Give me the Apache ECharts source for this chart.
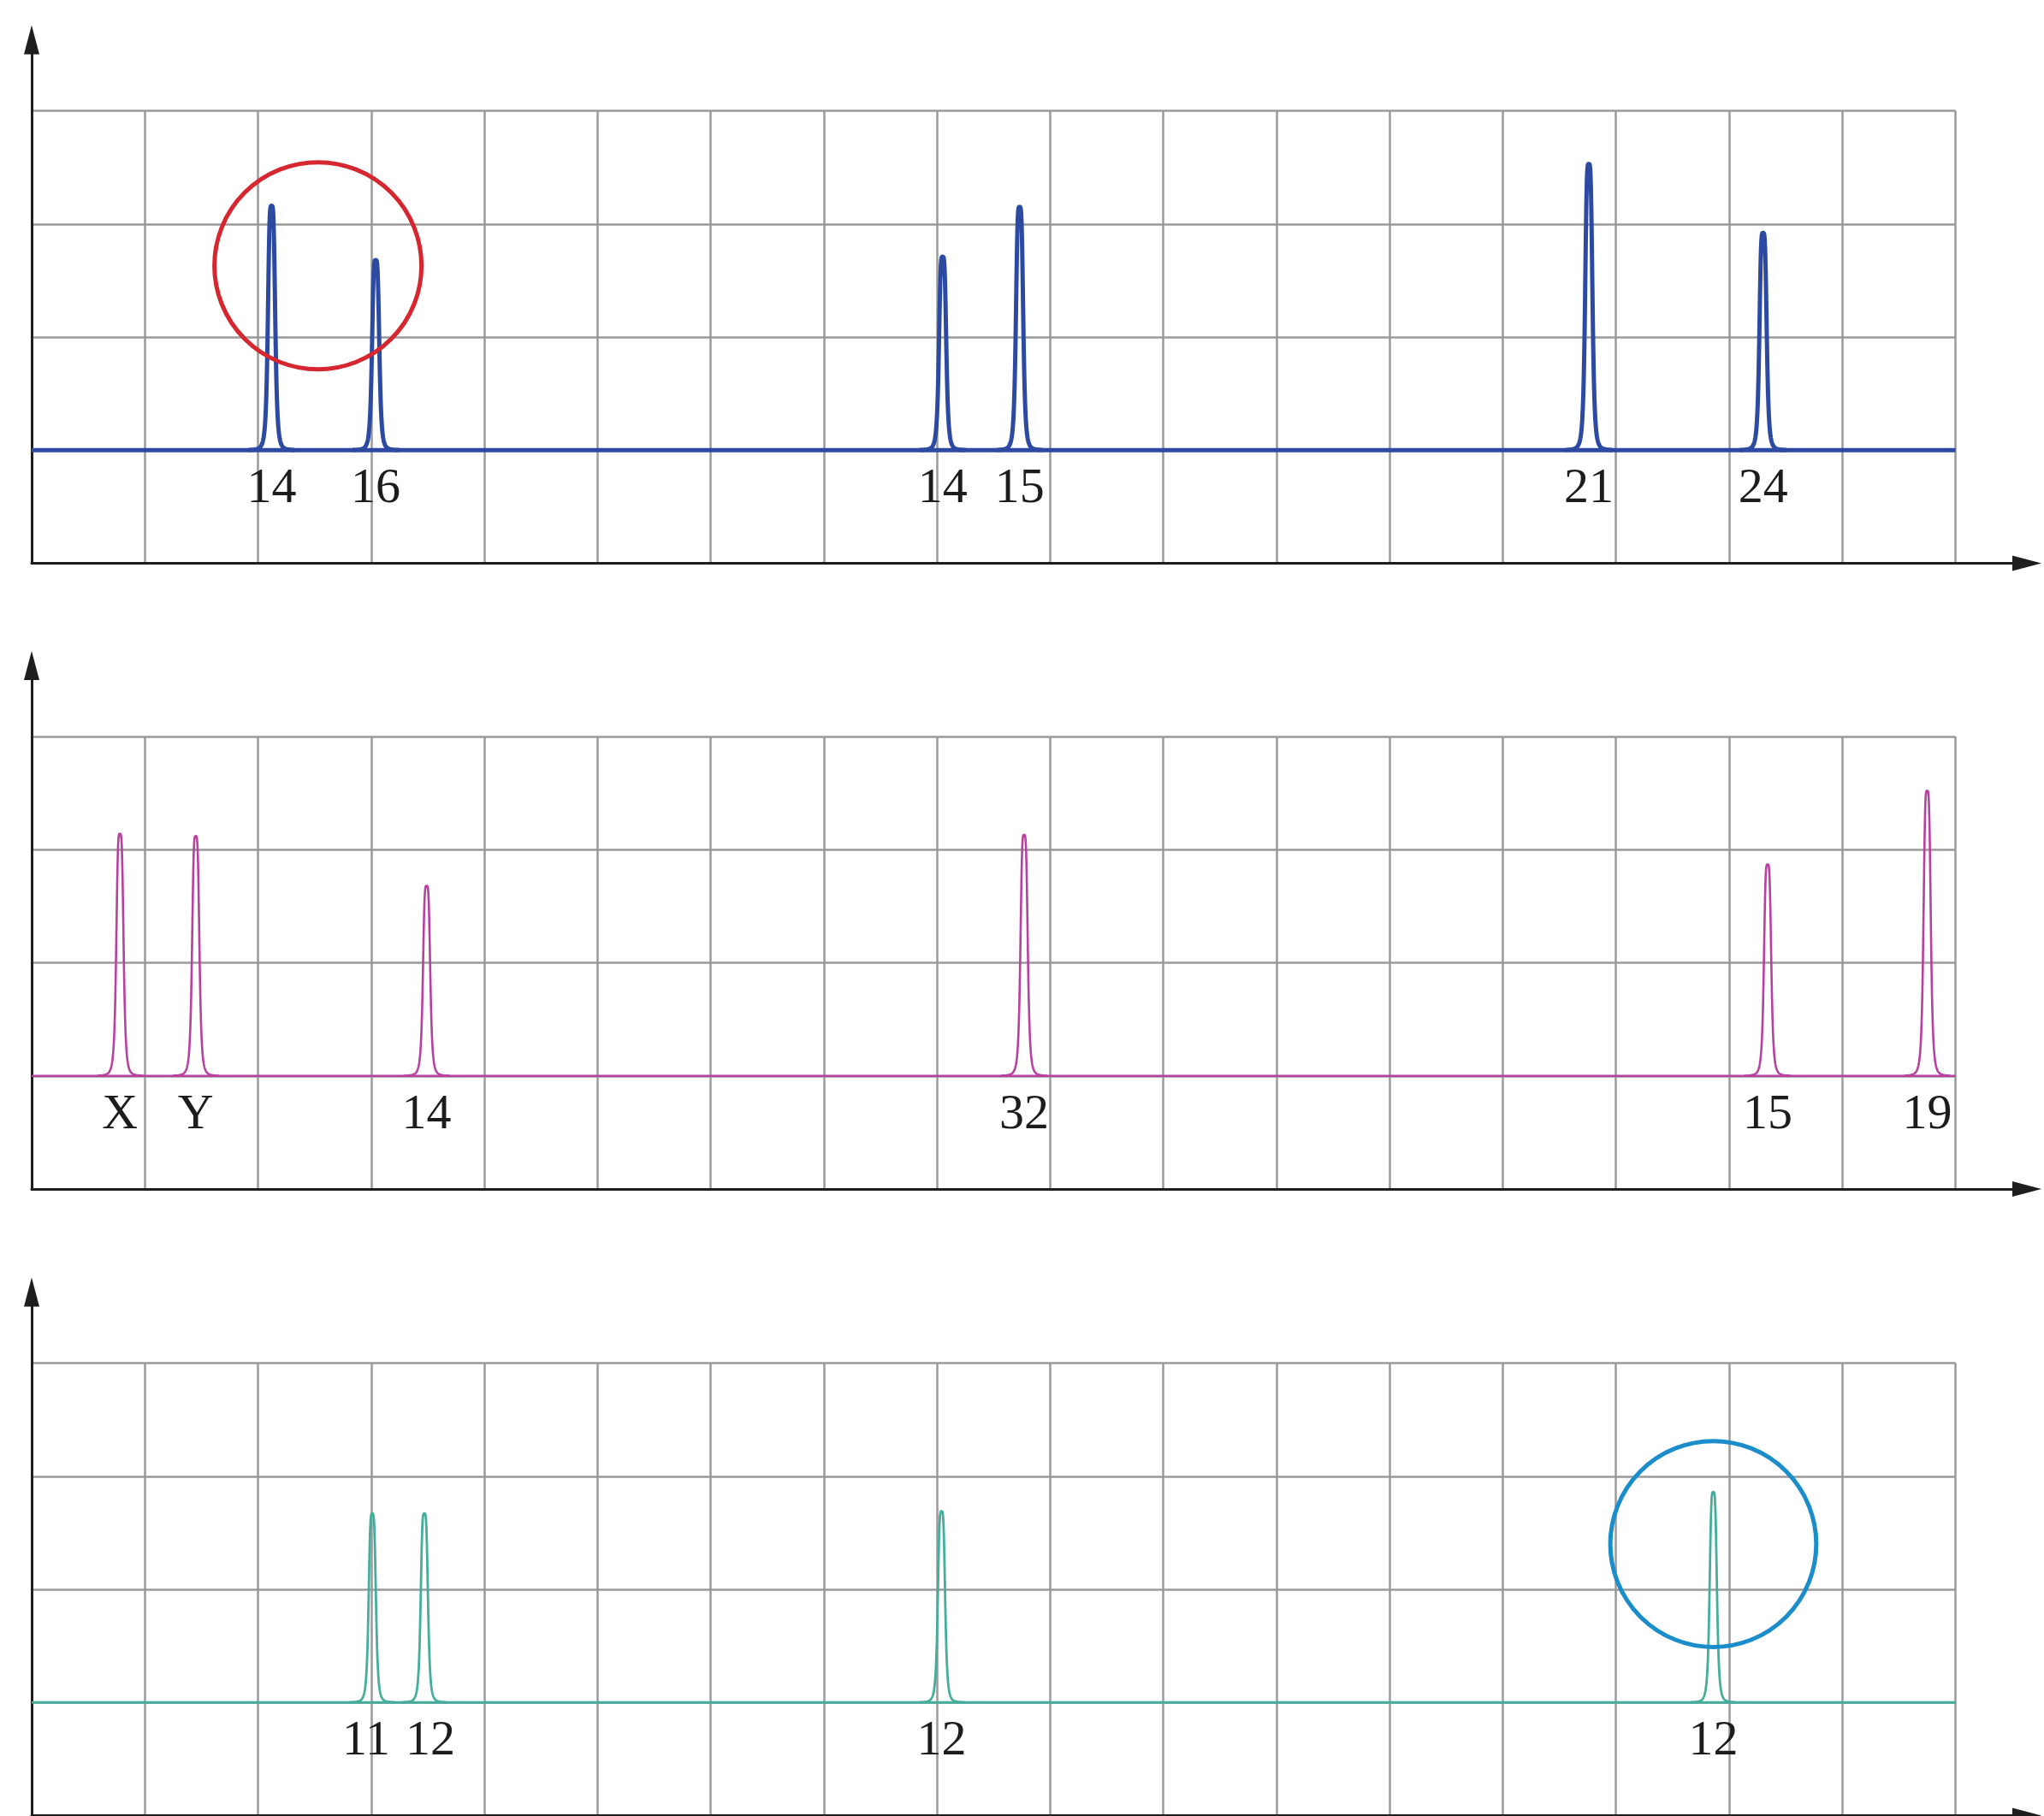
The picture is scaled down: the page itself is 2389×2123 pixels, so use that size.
<!DOCTYPE html>
<html>
<head>
<meta charset="utf-8">
<script src="https://cdn.jsdelivr.net/npm/echarts@6/dist/echarts.min.js"></script>
<style>
  html, body { margin: 0; padding: 0; background: #ffffff; }
  #chart { width: 2389px; height: 2123px; }
</style>
</head>
<body>
<div id="chart"></div>
<script>
// Three stacked traces on a 17 x 4 grid; each trace rests at level 1.
const cols = 17;
const rows = 4;
const baseLevel = 1;

// Trace A (blue): peak position, peak top
const peaksA = [[2.12, 3.16], [3.04, 2.68], [8.05, 2.71], [8.73, 3.15], [13.76, 3.53], [15.30, 2.92]];
const labelsA = ['14', '16', '14', '15', '21', '24'];

// Trace B (magenta)
const peaksB = [[0.78, 3.14], [1.45, 3.12], [3.49, 2.68], [8.77, 3.13], [15.34, 2.87], [16.75, 3.52]];
const labelsB = ['X', 'Y', '14', '32', '15', '19'];

// Trace C (teal)
const peaksC = [[3.01, 2.67], [3.47, 2.67], [8.04, 2.69], [14.86, 2.86]];
const labelsC = ['11', '12', '12', '12'];

// Highlight rings: centre x, centre y, radius (grid units)
const ringA = [[2.53, 2.63, 0.915]];
const ringC = [[14.86, 2.40, 0.91]];

const chart = echarts.init(document.getElementById('chart'), null, { renderer: 'canvas' });

const panelTops = [129.5, 861, 1593.5];
const panelH = 529;
const panelLeft = 37;
const panelW = 2248.5;
const arrowLen = 34;
const arrowTipAbove = 100;   // y-axis arrow tip above the grid top
const arrowTipX = 2386;      // x-axis arrow tip

const PEAK_HALF_WIDTH = 0.034;  // grid units, half width at half height
const MIN_LABEL_GAP = 75;       // px between neighbouring label centres

// Horizontal position of a peak label, nudged apart from close neighbours
function labelX(peaks, idx, api) {
  const x = api.coord([peaks[idx][0], baseLevel])[0];
  let shift = 0;
  if (idx > 0) {
    const d = x - api.coord([peaks[idx - 1][0], baseLevel])[0];
    if (d < MIN_LABEL_GAP) shift += (MIN_LABEL_GAP - d) / 2;
  }
  if (idx < peaks.length - 1) {
    const d = api.coord([peaks[idx + 1][0], baseLevel])[0] - x;
    if (d < MIN_LABEL_GAP) shift -= (MIN_LABEL_GAP - d) / 2;
  }
  return x + shift;
}

function peakRenderer(peaks, labels, color, width) {
  return function (params, api) {
    const px = api.value(0);
    const top = api.value(1);
    const g = PEAK_HALF_WIDTH;
    const pts = [];
    for (let k = -90; k <= 90; k++) {
      const dx = k * g / 15;
      const u = dx / g;
      const v = baseLevel + (top - baseLevel) / (1 + u * u * u * u);
      pts.push(api.coord([px + dx, v]));
    }
    const foot = api.coord([px, baseLevel]);
    return {
      type: 'group',
      children: [
        {
          type: 'polyline',
          shape: { points: pts },
          style: { stroke: color, lineWidth: width, fill: 'none', lineJoin: 'round' }
        },
        {
          type: 'text',
          style: {
            text: labels[params.dataIndex],
            x: labelX(peaks, params.dataIndex, api),
            y: foot[1] + 46,
            align: 'center',
            verticalAlign: 'middle',
            fontSize: 58,
            fontFamily: '"Liberation Serif", "DejaVu Serif", serif',
            fill: '#1c1c1c'
          }
        }
      ]
    };
  };
}

function ringRenderer(color) {
  return function (params, api) {
    const c = api.coord([api.value(0), api.value(1)]);
    const s = api.size([api.value(2), api.value(2)]);
    return {
      type: 'circle',
      shape: { cx: c[0], cy: c[1], r: s[0] },
      style: { fill: 'none', stroke: color, lineWidth: 5 }
    };
  };
}

const traces = [
  { peaks: peaksA, labels: labelsA, color: '#2d4aa3', width: 5, ring: ringA, ringColor: '#d6262f' },
  { peaks: peaksB, labels: labelsB, color: '#b8409f', width: 2.6, ring: null },
  { peaks: peaksC, labels: labelsC, color: '#45ad9c', width: 2.8, ring: ringC, ringColor: '#1b8dcb' }
];

const grid = [], xAxis = [], yAxis = [], series = [];

traces.forEach(function (t, i) {
  const top = panelTops[i];
  const bottom = 2123 - (top + panelH);
  // gridded area
  grid.push({ left: panelLeft, top: top, width: panelW, height: panelH });
  // frame carrying the arrowed axes
  grid.push({
    left: panelLeft,
    top: top - arrowTipAbove + arrowLen / 2,
    right: 2389 - (arrowTipX - arrowLen / 2),
    bottom: bottom
  });
  const gi = i * 2;
  const gridLine = { show: true, lineStyle: { color: '#9a9a9a', width: 2.5 } };
  xAxis.push({
    gridIndex: gi, type: 'value', min: 0, max: cols, interval: 1,
    axisLine: { show: false }, axisTick: { show: false }, axisLabel: { show: false },
    splitLine: gridLine
  });
  yAxis.push({
    gridIndex: gi, type: 'value', min: 0, max: rows, interval: 1,
    axisLine: { show: false }, axisTick: { show: false }, axisLabel: { show: false },
    splitLine: gridLine
  });
  const arrowAxis = {
    show: true, onZero: false,
    symbol: ['none', 'triangle'], symbolSize: [18, arrowLen],
    lineStyle: { color: '#1e1e1e', width: 3 }
  };
  xAxis.push({
    gridIndex: gi + 1, type: 'value', min: 0, max: 1,
    axisLine: arrowAxis, axisTick: { show: false }, axisLabel: { show: false }, splitLine: { show: false }
  });
  yAxis.push({
    gridIndex: gi + 1, type: 'value', min: 0, max: 1,
    axisLine: arrowAxis, axisTick: { show: false }, axisLabel: { show: false }, splitLine: { show: false }
  });

  series.push({
    type: 'line', xAxisIndex: gi, yAxisIndex: gi,
    data: [[0, baseLevel], [cols, baseLevel]],
    symbol: 'none', silent: true, z: 3,
    lineStyle: { color: t.color, width: t.width }
  });
  series.push({
    type: 'custom', xAxisIndex: gi, yAxisIndex: gi,
    data: t.peaks, z: 4, silent: true,
    renderItem: peakRenderer(t.peaks, t.labels, t.color, t.width)
  });
  if (t.ring) {
    series.push({
      type: 'custom', xAxisIndex: gi, yAxisIndex: gi,
      data: t.ring, z: 5, silent: true,
      renderItem: ringRenderer(t.ringColor)
    });
  }
});

chart.setOption({
  backgroundColor: '#ffffff',
  animation: false,
  grid: grid,
  xAxis: xAxis,
  yAxis: yAxis,
  series: series
});
</script>
</body>
</html>
